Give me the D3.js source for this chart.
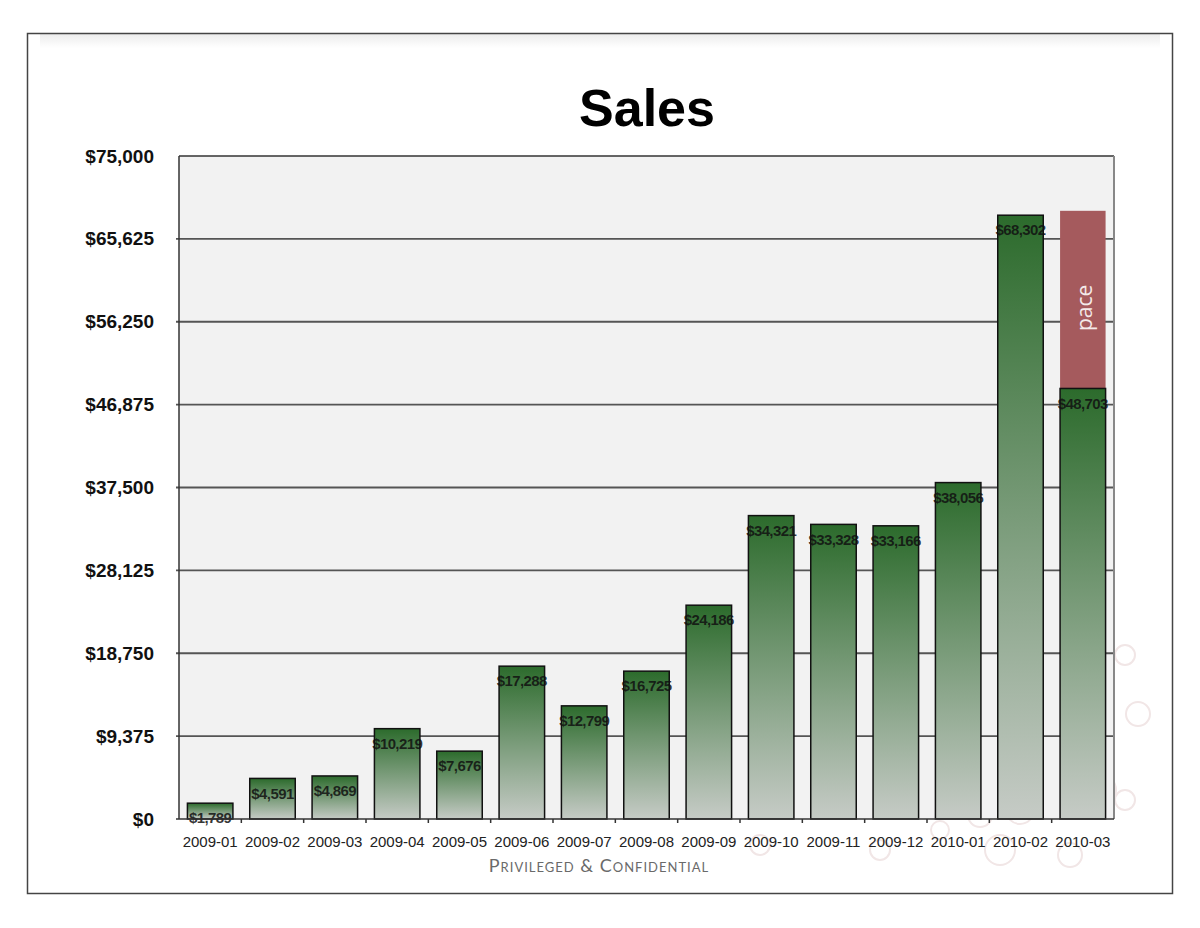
<!DOCTYPE html>
<html>
<head>
<meta charset="utf-8">
<script src="https://cdn.jsdelivr.net/npm/d3@7"></script>
<style>
  body { margin: 0; background: #fff; }
  svg { display: block; }
</style>
</head>
<body>
<svg id="chart"></svg>
<script>
// chart data
const months = ['2009-01', '2009-02', '2009-03', '2009-04', '2009-05', '2009-06', '2009-07', '2009-08',
                '2009-09', '2009-10', '2009-11', '2009-12', '2010-01', '2010-02', '2010-03'];
const sales = [1789, 4591, 4869, 10219, 7676, 17288, 12799, 16725, 24186, 34321, 33328, 33166, 38056, 68302, 48703];
const paceMonth = '2010-03';
const paceValue = 68800;
const yTicks = [0, 9375, 18750, 28125, 37500, 46875, 56250, 65625, 75000];

const W = 1200, H = 928;
const margin = {top: 156, right: 86, bottom: 109, left: 179};
const w = W - margin.left - margin.right;
const h = H - margin.top - margin.bottom;

const svg = d3.select('#chart').attr('width', W).attr('height', H);
const defs = svg.append('defs');

const grad = defs.append('linearGradient').attr('id', 'barGrad')
  .attr('x1', 0).attr('y1', 0).attr('x2', 0).attr('y2', 1);
grad.append('stop').attr('offset', '0%').attr('stop-color', '#2c6b2c');
grad.append('stop').attr('offset', '100%').attr('stop-color', '#c6cbc6');

const band = defs.append('linearGradient').attr('id', 'bandGrad')
  .attr('x1', 0).attr('y1', 0).attr('x2', 0).attr('y2', 1);
band.append('stop').attr('offset', '0%').attr('stop-color', '#ececec');
band.append('stop').attr('offset', '100%').attr('stop-color', '#ffffff');

// outer frame of the slide
svg.append('rect').attr('x', 40).attr('y', 34).attr('width', 1120).attr('height', 14).attr('fill', 'url(#bandGrad)');
svg.append('rect').attr('x', 27.5).attr('y', 33.5).attr('width', 1145).attr('height', 860)
  .attr('fill', 'none').attr('stroke', '#444').attr('stroke-width', 1.5);

// faint watermark bottom right
const wm = svg.append('g').attr('fill', 'none').attr('stroke', '#f1e6e6').attr('stroke-width', 2);
[[1125, 655, 10], [1138, 714, 12], [1100, 790, 16], [1060, 800, 12], [1020, 810, 14], [980, 815, 12],
 [1125, 800, 10], [940, 830, 9], [760, 845, 10], [880, 850, 10], [1000, 850, 15], [1070, 855, 12]]
  .forEach(c => wm.append('circle').attr('cx', c[0]).attr('cy', c[1]).attr('r', c[2]));

const g = svg.append('g').attr('transform', `translate(${margin.left},${margin.top})`);

const x = d3.scaleBand().domain(months).range([0, w]).paddingInner(0.27).paddingOuter(0.135);
const y = d3.scaleLinear().domain([0, 75000]).range([h, 0]);

g.append('rect').attr('width', w).attr('height', h).attr('fill', '#f2f2f2');

// grid lines
g.append('g').selectAll('line').data(yTicks.slice(1, -1)).join('line')
  .attr('x1', -3).attr('x2', w).attr('y1', d => y(d)).attr('y2', d => y(d))
  .attr('stroke', '#555').attr('stroke-width', 1.8);

// plot border
g.append('line').attr('x1', 0).attr('x2', w).attr('y1', 0).attr('y2', 0).attr('stroke', '#333').attr('stroke-width', 1.5);
g.append('line').attr('x1', 0).attr('x2', 0).attr('y1', 0).attr('y2', h).attr('stroke', '#333').attr('stroke-width', 1.5);
g.append('line').attr('x1', w).attr('x2', w).attr('y1', 0).attr('y2', h).attr('stroke', '#888').attr('stroke-width', 2);

// y axis labels
const yAxis = d3.axisLeft(y).tickValues(yTicks).tickSize(0).tickPadding(25)
  .tickFormat(d => '$' + d3.format(',')(d));
g.append('g').call(yAxis)
  .call(s => s.select('.domain').remove())
  .selectAll('text')
  .attr('font-family', 'Liberation Sans, Arial, sans-serif')
  .attr('font-size', 19).attr('font-weight', 'bold').attr('fill', '#111');

// pace bar
g.append('rect')
  .attr('x', x(paceMonth)).attr('width', x.bandwidth())
  .attr('y', y(paceValue)).attr('height', y(sales[months.indexOf(paceMonth)]) - y(paceValue))
  .attr('fill', '#a55a5d');
g.append('text')
  .attr('transform', `translate(${x(paceMonth) + x.bandwidth() / 2 + 2},${y(paceValue) + 97}) rotate(-90)`)
  .attr('text-anchor', 'middle').attr('dy', '0.35em')
  .attr('font-family', 'Open Sans, DejaVu Sans, sans-serif').attr('font-size', 21)
  .attr('fill', '#f4eaea').text('pace');

// bars
g.append('g').selectAll('rect').data(sales).join('rect')
  .attr('x', (d, i) => x(months[i])).attr('width', x.bandwidth())
  .attr('y', d => y(d)).attr('height', d => h - y(d))
  .attr('fill', 'url(#barGrad)').attr('stroke', '#111').attr('stroke-width', 1.5);

// value labels
g.append('g').selectAll('text').data(sales).join('text')
  .attr('x', (d, i) => x(months[i]) + x.bandwidth() / 2)
  .attr('y', d => y(d) + 15).attr('dy', '0.35em')
  .attr('text-anchor', 'middle')
  .attr('font-family', 'Liberation Sans, Arial, sans-serif')
  .attr('font-size', 15).attr('font-weight', 'bold').attr('letter-spacing', -0.6)
  .attr('fill', '#111').attr('fill-opacity', 0.85)
  .text(d => '$' + d3.format(',')(d));

// x axis
const xAxis = d3.axisBottom(x).tickSize(0).tickPadding(17);
const xg = g.append('g').attr('transform', `translate(0,${h})`).call(xAxis);
xg.select('.domain').attr('stroke', '#333').attr('stroke-width', 1.5).attr('d', `M-3,0H${w}`);
xg.selectAll('text')
  .attr('font-family', 'Liberation Sans, Arial, sans-serif')
  .attr('font-size', 15).attr('fill', '#222');
xg.append('g').selectAll('line').data(months.slice(1)).join('line')
  .attr('x1', d => x(d) - x.step() * x.paddingInner() / 2)
  .attr('x2', d => x(d) - x.step() * x.paddingInner() / 2)
  .attr('y1', 0).attr('y2', 4).attr('stroke', '#333').attr('stroke-width', 1.5);

// title
svg.append('text').attr('x', 647).attr('y', 126).attr('text-anchor', 'middle')
  .attr('font-family', 'Liberation Sans, Arial, sans-serif')
  .attr('font-size', 52).attr('font-weight', 'bold').attr('fill', '#000').text('Sales');

// footer
svg.append('text').attr('x', 599).attr('y', 872).attr('text-anchor', 'middle')
  .attr('font-family', 'Lato, Open Sans, sans-serif').attr('font-size', 18).attr('letter-spacing', 1)
  .attr('font-variant', 'small-caps').attr('fill', '#6a6a6a')
  .text('Privileged & Confidential');
</script>
</body>
</html>
